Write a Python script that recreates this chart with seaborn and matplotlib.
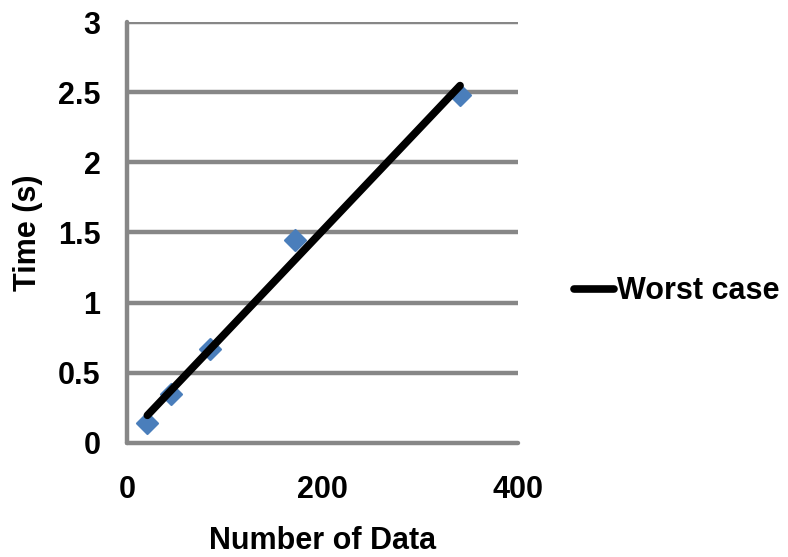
import numpy as np
import pandas as pd
import matplotlib
matplotlib.use("Agg")
import matplotlib.pyplot as plt
import seaborn as sns
from matplotlib.lines import Line2D

# Measured run times
n_data = [21, 45, 85, 172, 341]
time_s = [0.14, 0.35, 0.67, 1.45, 2.48]
series_label = "Worst case"
x_ticks = [0, 200, 400]
y_ticks = [0, 0.5, 1, 1.5, 2, 2.5, 3]
y_tick_labels = ["0", "0.5", "1", "1.5", "2", "2.5", "3"]

df = pd.DataFrame({"n": n_data, "t": time_s})

# Linear trend through the measurements
slope, intercept = np.polyfit(df["n"], df["t"], 1)
trend = pd.DataFrame({"n": [min(n_data), max(n_data)]})
trend["t"] = slope * trend["n"] + intercept

sns.set_theme(style="white")
plt.rcParams["font.family"] = ["Liberation Sans", "DejaVu Sans"]
plt.rcParams["font.weight"] = "bold"
plt.rcParams["text.color"] = "black"
plt.rcParams["axes.labelcolor"] = "black"
plt.rcParams["xtick.labelcolor"] = "black"
plt.rcParams["ytick.labelcolor"] = "black"

grid_color = "#878787"
marker_color = "#4A7EBB"
fs = 22

fig = plt.figure(figsize=(7.88, 5.57), dpi=100)
ax = fig.add_axes([0.161, 0.2047, 0.496, 0.7558])

sns.scatterplot(data=df, x="n", y="t", marker="D", s=115, color=marker_color,
                edgecolor=marker_color, linewidth=1.5, ax=ax, zorder=3, legend=False)
sns.lineplot(data=trend, x="n", y="t", color="black", linewidth=5.5,
             solid_capstyle="round", ax=ax, zorder=4, legend=False)

ax.set_xlim(0, 400)
ax.set_ylim(0, 3)
ax.set_xticks(x_ticks)
ax.set_xticklabels([str(v) for v in x_ticks])
ax.set_yticks(y_ticks)
ax.set_yticklabels(y_tick_labels)

# Horizontal gridlines
for yv in y_ticks[1:]:
    ax.axhline(yv, color=grid_color, linewidth=3.2, zorder=1, solid_capstyle="round")

for side in ["top", "right"]:
    ax.spines[side].set_visible(False)
for side in ["left", "bottom"]:
    ax.spines[side].set_color(grid_color)
    ax.spines[side].set_linewidth(3.2)
    ax.spines[side].set_capstyle("round")

ax.tick_params(axis="both", which="major", direction="out", length=5, width=3.2,
               color=grid_color, labelsize=fs, labelcolor="black")
ax.tick_params(axis="x", pad=18)
ax.tick_params(axis="y", pad=14)
for lbl in ax.get_xticklabels() + ax.get_yticklabels():
    lbl.set_fontweight("bold")

ax.set_xlabel("Number of Data", fontsize=fs, fontweight="bold", labelpad=15.5, color="black")
ax.set_ylabel("Time (s)", fontsize=fs, fontweight="bold", labelpad=11, color="black")

handle = Line2D([0], [0], color="black", linewidth=5.5, solid_capstyle="round")
fig.legend([handle], [series_label], loc="center left",
           bbox_to_anchor=(0.713, 0.477), frameon=False,
           prop={"size": fs, "weight": "bold"}, handlelength=1.3,
           handletextpad=0.1, borderaxespad=0, labelcolor="black")

fig.savefig("out.png", dpi=100)
